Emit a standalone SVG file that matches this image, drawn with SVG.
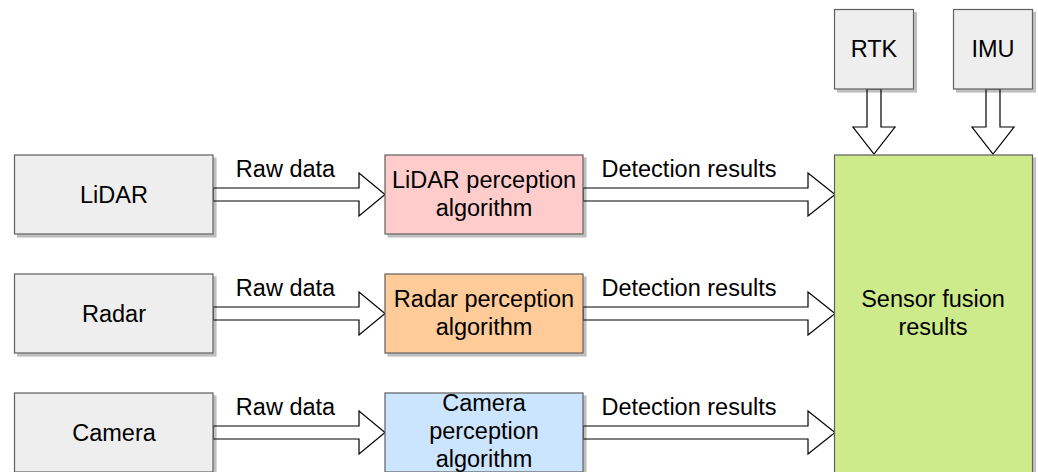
<svg xmlns="http://www.w3.org/2000/svg" width="1038" height="472" viewBox="0 0 1038 472">
<defs>
<filter id="sh" x="-10%" y="-10%" width="130%" height="130%">
<feOffset in="SourceAlpha" dx="3" dy="3" result="o"/>
<feColorMatrix in="o" type="matrix" values="0 0 0 0 0  0 0 0 0 0  0 0 0 0 0  0 0 0 0.25 0" result="c"/>
<feMerge><feMergeNode in="c"/><feMergeNode in="SourceGraphic"/></feMerge>
</filter>
</defs>
<style>
.box{stroke:#5e5e5e;stroke-width:1.2;filter:url(#sh)}
.gray{fill:#eeeeee}
.pink{fill:#ffcccc}
.orange{fill:#ffcc99}
.blue{fill:#cce5ff}
.green{fill:#cdeb8b}
.arr{fill:#ffffff;stroke:#000000;stroke-width:1.2;stroke-linejoin:miter}
text{font-family:"Liberation Sans",Arial,sans-serif;font-size:23.5px;fill:#000000;text-anchor:middle}
</style>
<rect width="1038" height="472" fill="#ffffff"/>
<g id="connectors">
<polygon class="arr" points="213,188 359,188 359,173 385,194.5 359,216 359,201 213,201"/>
<polygon class="arr" points="213,307 359,307 359,292 385,313.5 359,335 359,320 213,320"/>
<polygon class="arr" points="213,426 359,426 359,411 385,432.5 359,454 359,439 213,439"/>
<polygon class="arr" points="583,188 808,188 808,173 835,194.5 808,216 808,201 583,201"/>
<polygon class="arr" points="583,307 808,307 808,292 835,313.5 808,335 808,320 583,320"/>
<polygon class="arr" points="583,426 808,426 808,411 835,432.5 808,454 808,439 583,439"/>
<polygon class="arr" points="867,89 881,89 881,127 895,127 874,154 853,127 867,127"/>
<polygon class="arr" points="986,89 1000,89 1000,127 1014,127 993,154 972,127 986,127"/>
<text x="285.5" y="177">Raw data</text>
<text x="285.5" y="296">Raw data</text>
<text x="285.5" y="415">Raw data</text>
<text x="689" y="177">Detection results</text>
<text x="689" y="296">Detection results</text>
<text x="689" y="415">Detection results</text>
</g>
<g id="lidar">
<rect class="box gray" x="14.5" y="155" width="198.5" height="79"/>
<text x="114" y="202.5">LiDAR</text>
</g>
<g id="radar">
<rect class="box gray" x="14.5" y="274" width="198.5" height="79"/>
<text x="114" y="321.5">Radar</text>
</g>
<g id="camera">
<rect class="box gray" x="14.5" y="393" width="198.5" height="79"/>
<text x="114" y="440.5">Camera</text>
</g>
<g id="lidar-perception">
<rect class="box pink" x="385" y="155" width="198" height="79"/>
<text x="484" y="188">LiDAR perception</text>
<text x="484" y="216">algorithm</text>
</g>
<g id="radar-perception">
<rect class="box orange" x="385" y="274" width="198" height="79"/>
<text x="484" y="307">Radar perception</text>
<text x="484" y="335">algorithm</text>
</g>
<g id="camera-perception">
<rect class="box blue" x="385" y="393" width="198" height="79"/>
<text x="484" y="411">Camera</text>
<text x="484" y="439">perception</text>
<text x="484" y="466.5">algorithm</text>
</g>
<g id="rtk">
<rect class="box gray" x="834.5" y="9.5" width="79" height="79.5"/>
<text x="874" y="57">RTK</text>
</g>
<g id="imu">
<rect class="box gray" x="953.5" y="9.5" width="79" height="79.5"/>
<text x="993" y="57">IMU</text>
</g>
<g id="sensor-fusion">
<rect class="box green" x="834.5" y="155" width="198" height="318"/>
<text x="933" y="307">Sensor fusion</text>
<text x="933" y="335">results</text>
</g>
</svg>
